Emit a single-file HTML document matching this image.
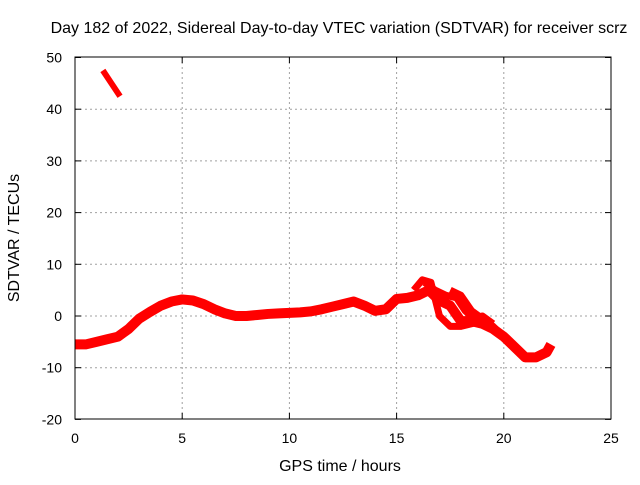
<!DOCTYPE html>
<html><head><meta charset="utf-8"><style>
body{margin:0;background:#fff}
svg text{font-family:"Liberation Sans",sans-serif;font-size:14px;fill:#000}
svg text.big{font-size:16px}
</style></head><body>
<svg id="chart" width="640" height="480">
<text class="big" x="339" y="33" text-anchor="middle">Day 182 of 2022, Sidereal Day-to-day VTEC variation (SDTVAR) for receiver scrz</text>
<text class="big" x="340" y="471" text-anchor="middle">GPS time / hours</text>
<text class="big" transform="translate(19,238) rotate(-90)" text-anchor="middle">SDTVAR / TECUs</text>
<g id="grid"></g><g id="ticks"></g><g id="series"></g>
<rect x="75" y="57" width="536" height="362" fill="none" stroke="#000" stroke-width="1"/>
</svg>
<script>
const xTicks=[0,5,10,15,20,25];
const yTicks=[-20,-10,0,10,20,30,40,50];
const mainHours=[0,0.5,1,1.5,2,2.5,3,3.5,4,4.5,5,5.5,6,6.5,7,7.5,8,8.5,9,9.5,10,10.5,11,11.5,12,12.5,13,13.5,14,14.5,15,15.5,16,16.5,17,17.5,18,18.5,19,19.5,20,20.5,21,21.5,22,22.2];
const mainVals=[-5.5,-5.5,-5,-4.5,-4,-2.5,-0.5,0.8,2,2.8,3.2,3,2.3,1.3,0.5,0,0,0.2,0.4,0.5,0.6,0.7,0.9,1.3,1.8,2.3,2.8,2,1,1.3,3.3,3.5,4,5,3,2,-1,-1,-1.5,-2.5,-4,-6,-8,-8,-7,-5.5];
const branch1Hours=[15.8,16.2,16.6,17,17.5,18,18.5,19];
const branch1Vals=[5,7,6.5,0,-2,-2,-1.5,-1];
const branch2Hours=[16.3,16.8,17.3,17.8,18.2,18.6,19,19.5];
const branch2Vals=[6.5,5,4,3.5,1,-0.5,0,-1.5];
const branch3Hours=[17.5,18,18.5,19,19.5,20];
const branch3Vals=[5,4,1,-0.5,-2,-4];
const earlyHours=[1.3,1.7,2.1];
const earlyVals=[47.5,45,42.5];
const NS="http://www.w3.org/2000/svg";
const X=h=>75+h*536/25, Y=v=>316-v*5.17;
const grid=document.getElementById('grid'),ticks=document.getElementById('ticks'),ser=document.getElementById('series');
function mk(tag,a,p){const e=document.createElementNS(NS,tag);for(const k in a)e.setAttribute(k,a[k]);p.appendChild(e);return e;}
xTicks.forEach(t=>{
 const x=X(t);
 if(t>0&&t<25){const g=mk('line',{x1:x,x2:x,y1:57,y2:419,stroke:'#a0a0a0','stroke-dasharray':'2,3'},grid);
 
 }
 mk('line',{x1:x,x2:x,y1:419,y2:413,stroke:'#000'},ticks);mk('line',{x1:x,x2:x,y1:57,y2:63,stroke:'#000'},ticks);
 const l=mk('text',{x:x,y:443,'text-anchor':'middle'},ticks);l.textContent=t;
 
 
});
yTicks.forEach(t=>{
 const y=Y(t);
 if(t>-20&&t<50){const g=mk('line',{x1:75,x2:611,y1:y,y2:y,stroke:'#a0a0a0','stroke-dasharray':'2,3'},grid);
 
 }
 mk('line',{x1:75,x2:81,y1:y,y2:y,stroke:'#000'},ticks);mk('line',{x1:611,x2:605,y1:y,y2:y,stroke:'#000'},ticks);
 const l=mk('text',{x:62,y:y+5,'text-anchor':'end'},ticks);l.textContent=t;
 
 
});
function line(hs,vs,name,w){
 const p=mk('polyline',{points:hs.map((h,i)=>X(h)+','+Y(vs[i])).join(' '),fill:'none',stroke:'#ff0000','stroke-width':w,'stroke-linejoin':'round','stroke-linecap':'butt'},ser);
 
 
}
line(mainHours,mainVals,'sdtvar-main-series',10);
line(branch1Hours,branch1Vals,'sdtvar-branch-1',7);
line(branch2Hours,branch2Vals,'sdtvar-branch-2',7);
line(branch3Hours,branch3Vals,'sdtvar-branch-3',7);
line(earlyHours,earlyVals,'sdtvar-early-segment',6);
</script>
</body></html>
